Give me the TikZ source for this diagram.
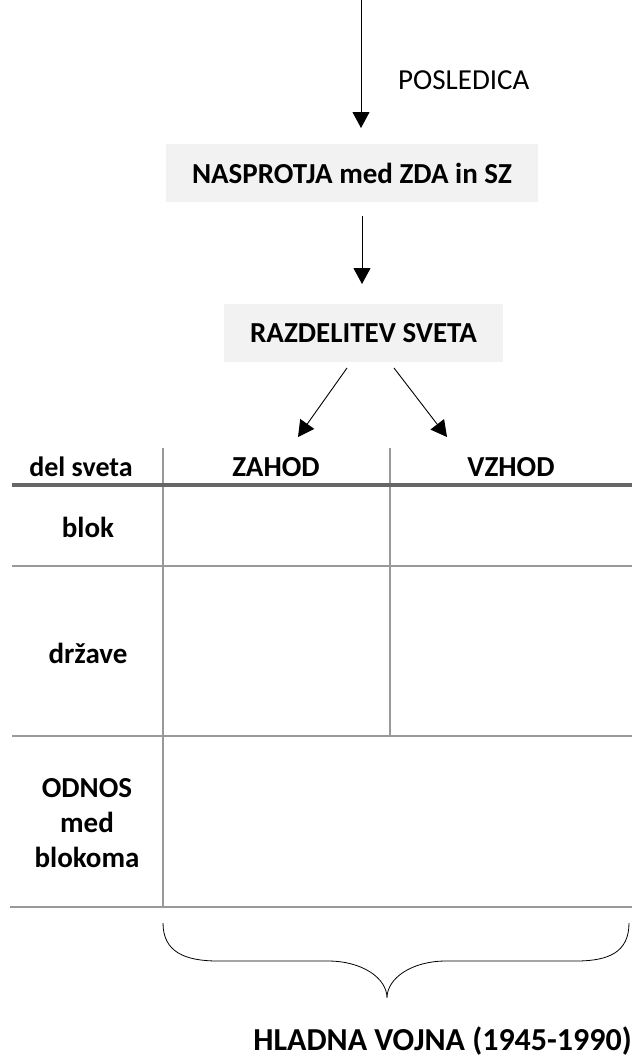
\documentclass[tikz,border=0pt]{standalone}
\usepackage{fontspec}
\setmainfont{Carlito}
\usetikzlibrary{arrows.meta}
\definecolor{boxgray}{HTML}{F2F2F2}
\definecolor{rulegray}{HTML}{999999}
\definecolor{headgray}{HTML}{666666}
\tikzset{
  x=1pt, y=-1pt,
  bigtxt/.style={font=\fontsize{29}{35}\selectfont\bfseries, inner sep=0pt},
  smalltxt/.style={font=\fontsize{28}{33}\selectfont\bfseries, inner sep=0pt},
  hugetxt/.style={font=\fontsize{32}{38}\selectfont\bfseries, inner sep=0pt},
  regtxt/.style={font=\fontsize{29}{35}\selectfont, inner sep=0pt},
  graybox/.style={bigtxt, fill=boxgray, minimum height=58pt, anchor=center},
  arr/.style={line width=1pt, -{Triangle[width=17pt,length=16pt]}},
  arrthin/.style={line width=0.9pt, -{Triangle[width=17pt,length=16pt]}},
  rule/.style={line width=2pt, draw=rulegray},
  headrule/.style={line width=3.5pt, draw=headgray},
  brace/.style={line width=0.8pt},
}
\begin{document}
\begin{tikzpicture}
\useasboundingbox (0,0) rectangle (632,1057);

% boxes
\node[graybox, minimum width=372pt] (n1) at (352,173) {NASPROTJA med ZDA in SZ};
\node[graybox, minimum width=279pt] (n2) at (363.5,333) {RAZDELITEV SVETA};

% top arrow
\coordinate (t0) at (361,0);
\coordinate (t1) at (361,128);
\draw[arr] (t0) -- (t1);
\node[regtxt, anchor=base west] (posl) at (398,89) {POSLEDICA};

% arrow 2
\coordinate (m0) at (362,216);
\coordinate (m1) at (362,284);
\draw[arr] (m0) -- (m1);

% table header texts
\node[smalltxt, anchor=base] (hdel) at (81,476) {del sveta};
\node[bigtxt, anchor=base] (hzah) at (276,476) {ZAHOD};
\node[bigtxt, anchor=base] (hvzh) at (511,476) {VZHOD};

% split arrows
\coordinate (l0) at (347,368);
\coordinate (l1) at (298,437);
\coordinate (r0) at (394,368);
\coordinate (r1) at (447,437);
\draw[arrthin] (l0) -- (l1);
\draw[arrthin] (r0) -- (r1);

% table rules
\draw[rule] (163,448) -- (163,907);
\draw[rule] (390,448) -- (390,736);
\draw[headrule] (12,485) -- (632,485);
\draw[rule] (12,566) -- (632,566);
\draw[rule] (12,736) -- (632,736);
\draw[rule] (10,907) -- (632,907);

% row labels
\node[bigtxt] (rblok) at (88,527) {blok};
\node[bigtxt] (rdrz) at (88,653) {države};
\node[bigtxt, align=center] (rodn) at (87,823) {ODNOS\\med\\blokoma};

% brace
\coordinate (bl) at (163,923);
\coordinate (bt) at (387,998);
\coordinate (br) at (629,923);
\draw[brace] (bl) .. controls (163,952) and (185,961) .. (218,961)
  -- (328,961) .. controls (362,961) and (387,978) .. (bt)
  .. controls (387,978) and (412,961) .. (446,961)
  -- (576,961) .. controls (609,961) and (629,952) .. (br);

\node[hugetxt, anchor=base east] (hv) at (632,1050) {HLADNA VOJNA (1945-1990)};
\end{tikzpicture}
\end{document}
